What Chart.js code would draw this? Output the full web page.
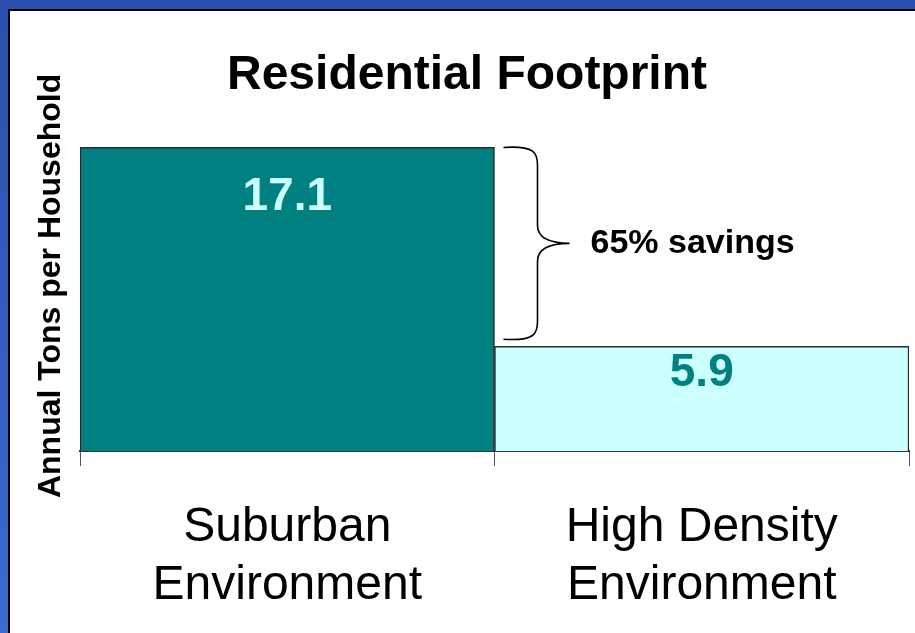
<!DOCTYPE html>
<html>
<head>
<meta charset="utf-8">
<script src="https://cdn.jsdelivr.net/npm/chart.js@4/dist/chart.umd.min.js"></script>
<style>
  html, body { margin: 0; padding: 0; background: #ffffff; }
  #frame { position: relative; width: 915px; height: 633px; overflow: hidden; background: #ffffff; }
  #topband { position: absolute; left: 0; top: 0; width: 915px; height: 9px; background: #2b4fae; }
  #leftband { position: absolute; left: 0; top: 0; width: 8px; height: 633px; background: linear-gradient(#2b4fae, #3d6acd); }
  #topline { position: absolute; left: 8px; top: 9px; width: 907px; height: 2px; background: #000; }
  #leftline { position: absolute; left: 8px; top: 9px; width: 2px; height: 624px; background: #000; }
  canvas { position: absolute; left: 0; top: 0; }
</style>
</head>
<body>
<div id="frame">
  <div id="topband"></div>
  <div id="leftband"></div>
  <div id="topline"></div>
  <div id="leftline"></div>
  <canvas id="c" width="915" height="633"></canvas>
</div>
<script>
// ---- data ----
const categories = [['Suburban', 'Environment'], ['High Density', 'Environment']];
const values = [17.1, 5.9];
const valueLabels = ['17.1', '5.9'];
const chartTitle = 'Residential Footprint';
const yAxisTitle = 'Annual Tons per Household';
const annotationText = '65% savings';

// ---- styles ----
const barColors = ['#008080', '#ccffff'];
const labelColors = ['#ccffff', '#008080'];
const FONT = '"Liberation Sans", Arial, sans-serif';

const valueLabelPlugin = {
  id: 'valueLabels',
  afterDatasetsDraw(chart, args, opts) {
    const ctx = chart.ctx;
    const meta = chart.getDatasetMeta(0);
    ctx.save();
    ctx.font = 'bold 46px ' + FONT;
    ctx.textAlign = 'center';
    ctx.textBaseline = 'middle';
    meta.data.forEach((bar, i) => {
      ctx.fillStyle = labelColors[i];
      ctx.fillText(valueLabels[i], bar.x, bar.y + opts.offsets[i]);
    });
    ctx.restore();
  }
};

const bracePlugin = {
  id: 'brace',
  afterDatasetsDraw(chart) {
    const ctx = chart.ctx;
    const meta = chart.getDatasetMeta(0);
    const b0 = meta.data[0], b1 = meta.data[1];
    const x0 = b0.x + b0.width / 2 + 9;   // brace start x
    const xm = x0 + 34;                   // vertical stroke x
    const xt = x0 + 66;                   // tip x
    const yTop = b0.y;
    const yBot = b1.y - 7;
    const yMid = (yTop + yBot) / 2;
    ctx.save();
    ctx.strokeStyle = '#000';
    ctx.lineWidth = 1.6;
    ctx.beginPath();
    ctx.moveTo(x0, yTop);
    ctx.bezierCurveTo(xm - 2, yTop - 2, xm, yTop + 6, xm, yTop + 18);
    ctx.lineTo(xm, yMid - 18);
    ctx.bezierCurveTo(xm, yMid - 4, xt - 18, yMid, xt, yMid);
    ctx.bezierCurveTo(xt - 18, yMid, xm, yMid + 4, xm, yMid + 18);
    ctx.lineTo(xm, yBot - 18);
    ctx.bezierCurveTo(xm, yBot - 6, xm - 2, yBot + 2, x0, yBot);
    ctx.stroke();
    ctx.font = 'bold 34px ' + FONT;
    ctx.fillStyle = '#000';
    ctx.textAlign = 'left';
    ctx.textBaseline = 'middle';
    ctx.fillText(annotationText, xt + 21, yMid);
    ctx.restore();
  }
};

new Chart(document.getElementById('c'), {
  type: 'bar',
  data: {
    labels: categories,
    datasets: [{
      data: values,
      backgroundColor: barColors,
      borderColor: '#2a2a2a',
      borderWidth: 1.5,
      barPercentage: 1,
      categoryPercentage: 1
    }]
  },
  options: {
    responsive: false,
    devicePixelRatio: 1,
    animation: false,
    layout: { padding: { left: 25, right: 6, top: 0, bottom: 0 } },
    plugins: {
      legend: { display: false },
      tooltip: { enabled: false },
      title: {
        display: true,
        text: chartTitle,
        color: '#000',
        font: { family: FONT, size: 48, weight: 'bold', lineHeight: 1.2 },
        padding: { top: 47, bottom: 16.2 }
      },
      valueLabels: { offsets: [50, 27] }
    },
    scales: {
      x: {
        afterFit(s) { s.height = 182; },
        grid: {
          display: true,
          drawOnChartArea: false,
          drawTicks: true,
          tickLength: 15,
          color: '#555555',
          lineWidth: 1
        },
        border: { display: true, color: '#333333', width: 2 },
        ticks: {
          color: '#000',
          padding: 33,
          maxRotation: 0,
          font: { family: FONT, size: 48, lineHeight: 1.2 }
        }
      },
      y: {
        min: 0,
        max: 18.6,
        afterFit(s) { s.width = 55; },
        grid: { display: false, drawTicks: false },
        border: { display: false },
        ticks: { display: false },
        title: {
          display: true,
          text: yAxisTitle,
          color: '#000',
          font: { family: FONT, size: 32, weight: 'bold', lineHeight: 1.2 },
          padding: { top: 7, bottom: 9 }
        }
      }
    }
  },
  plugins: [valueLabelPlugin, bracePlugin]
});
</script>
</body>
</html>
